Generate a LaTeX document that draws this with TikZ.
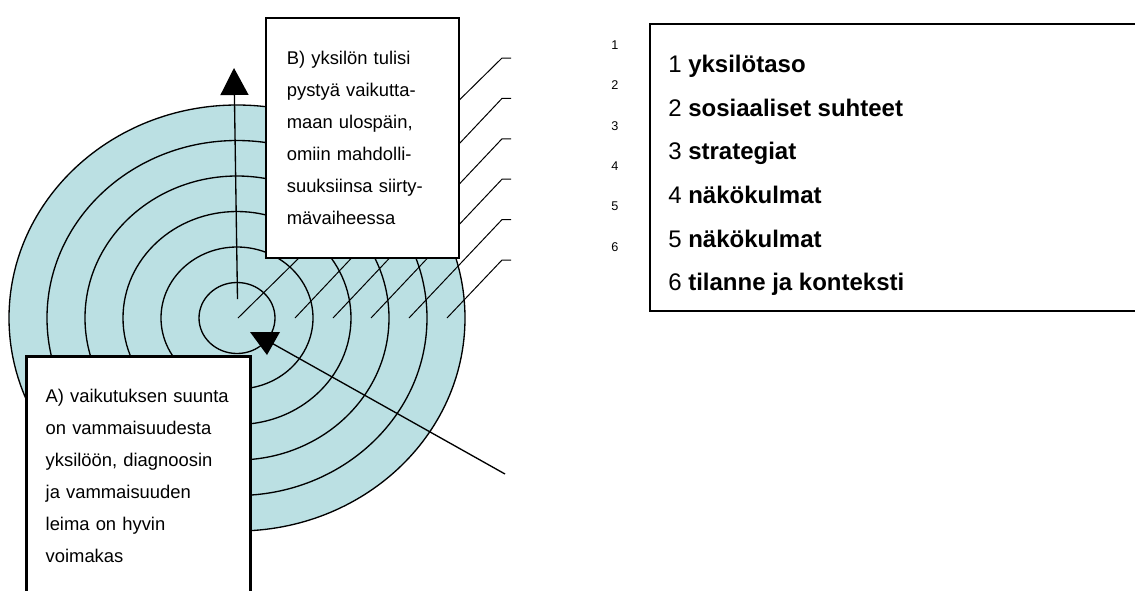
\documentclass[tikz,border=0pt]{standalone}
\usepackage{fontspec}
\setmainfont{Liberation Sans}
\usetikzlibrary{arrows.meta}
\definecolor{ringblue}{RGB}{187,224,227}
\tikzset{
  ring/.style={draw=black, line width=1pt, fill=ringblue},
  leader/.style={line width=0.75pt},
  arrowline/.style={line width=1pt},
  textbox/.style={draw=black, fill=white, anchor=north west, align=left,
    font=\fontsize{13.8}{24}\selectfont, inner ysep=0pt},
  legenditem/.style={anchor=base west, inner sep=0pt, font=\fontsize{18}{22}\selectfont},
  smallnum/.style={anchor=base, inner sep=0pt, font=\fontsize{9.5}{11}\selectfont}
}
\begin{document}
\begin{tikzpicture}[x=0.75pt, y=-0.75pt]
  \useasboundingbox (0,0) rectangle (1135,590);
  \clip (0,0) rectangle (1135,590);

  % concentric levels
  \coordinate (c) at (237,318);
  \foreach \k in {6,5,...,1}
    \draw[ring] (c) ellipse [x radius={28.5pt*\k}, y radius={26.625pt*\k}];

  % leader lines from the level numbers into the rings
  \foreach \k/\y in {1/58,2/98.4,3/138.8,4/179.2,5/219.6,6/260} {
    \coordinate (t\k) at (511,\y);
    \coordinate (b\k) at (502,\y);
  }
  \coordinate (e1) at (238,318);
  \coordinate (e2) at (295,318);
  \coordinate (e3) at (333,318);
  \coordinate (e4) at (371,318);
  \coordinate (e5) at (409,318);
  \coordinate (e6) at (447,318);
  \foreach \k in {1,...,6}
    \draw[leader] (t\k) -- (b\k) -- (e\k);

  % outward arrow (B)
  \coordinate (bFoot) at (237.5,299);
  \coordinate (bTip) at (234,68);
  \draw[arrowline, -{Triangle[width=21pt,length=20.25pt]}] (bFoot) -- (bTip);

  % inward arrow (A)
  \coordinate (aFoot) at (505,474);
  \coordinate (aHead) at (268,341);
  \draw[arrowline] (aFoot) -- (aHead);
  \fill (250,332) -- (280,332) -- (267,355) -- cycle;

  % text boxes
  \node[textbox, line width=1.25pt, minimum width=144.75pt, minimum height=180pt,
        text width=113.25pt, inner xsep=15.75pt] (boxB) at (265,17)
    {B) yksilön tulisi\\ pystyä vaikutta-\\ maan ulospäin,\\ omiin mahdolli-\\
     suuksiinsa siirty-\\ mävaiheessa};
  \node[textbox, line width=2pt, minimum width=168pt, minimum height=180pt,
        text width=139pt, inner xsep=14.5pt] (boxA) at (25,355)
    {A) vaikutuksen suunta\\ on vammaisuudesta\\ yksilöön, diagnoosin\\
     ja vammaisuuden\\ leima on hyvin\\ voimakas};

  % level numbers
  \foreach \k/\y in {1/49.5,2/89.5,3/130.5,4/170.5,5/210.5,6/251.5}
    \node[smallnum] (n\k) at (615,\y) {\k};

  % legend
  \node[draw, line width=1.5pt, minimum width=375.75pt, minimum height=215.25pt,
        anchor=north west, inner sep=0pt] (legend) at (649,23) {};
  \node[legenditem] (l1) at (668,72.3) {1 \textbf{yksilötaso}};
  \node[legenditem] (l2) at (668,116) {2 \textbf{sosiaaliset suhteet}};
  \node[legenditem] (l3) at (668,159.6) {3 \textbf{strategiat}};
  \node[legenditem] (l4) at (668,203.3) {4 \textbf{näkökulmat}};
  \node[legenditem] (l5) at (668,247) {5 \textbf{näkökulmat}};
  \node[legenditem] (l6) at (668,290.5) {6 \textbf{tilanne ja konteksti}};
\end{tikzpicture}
\end{document}
